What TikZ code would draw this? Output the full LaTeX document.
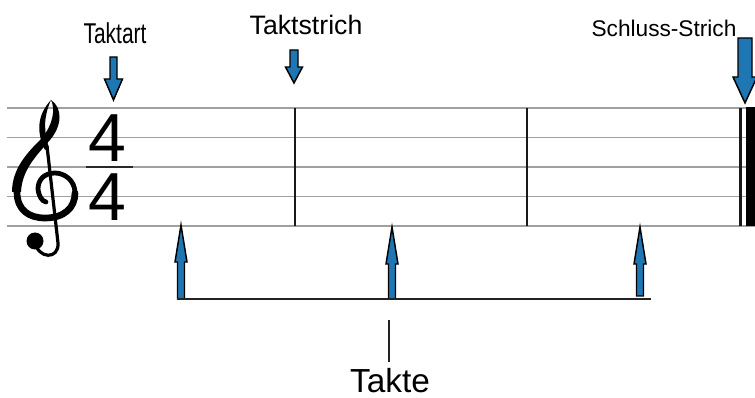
\documentclass[tikz,border=0pt]{standalone}
\usepackage{fontspec}
\setmainfont{Liberation Sans}
\usepackage{tikz}

\begin{document}
\begin{tikzpicture}[x=0.75pt,y=0.75pt,yscale=-1,xscale=1,
  staffline/.style={draw={rgb, 255:red, 160; green, 160; blue, 160}, line width=1.2pt},
  barline/.style={draw={rgb, 255:red, 25; green, 25; blue, 25}, line width=1.6pt},
  pointer/.style={draw=black, line width=1.1pt, line join=miter, fill={rgb, 255:red, 30; green, 118; blue, 178}},
  label/.style={anchor=base, inner sep=0pt}]
  \useasboundingbox (0,0) rectangle (755,398);

  %Straight Lines: staff
  \foreach \y in {108,137.5,167,196.5,226} {
    \draw [staffline] (7,\y) -- (755,\y) ;
  }
  %Straight Lines: bar lines
  \draw [barline] (295,108) -- (295,226) ;
  \draw [barline] (527,108) -- (527,226) ;
  \draw [barline] (740.5,108) -- (740.5,226) ;
  \fill [black] (746,107.5) rectangle (755,226.5) ;

  %Shape: treble clef
  \draw [line width=2.4pt, line cap=round] (35,242) .. controls (38,259) and (59,260) .. (58,243) -- (47,146) ;
  \fill (51,100) .. controls (36,116) and (37,134) .. (45,150) -- (49,148) .. controls (44,132) and (43,118) .. (51,100) -- cycle ;
  \fill (51,100) .. controls (63,108) and (62,126) .. (50,140) .. controls (36,156) and (22,170) .. (21,192)
        -- (12,192) .. controls (12,168) and (28,152) .. (42,138) .. controls (52,126) and (56,110) .. (51,100) -- cycle ;
  \draw [line width=5pt, line cap=round] (17,192) .. controls (17,210) and (29,218) .. (45,218) .. controls (64,218) and (75,208) .. (75,193) ;
  \draw [line width=3.6pt, line cap=round] (75,193) .. controls (75,180) and (64,173) .. (55,173) .. controls (44,173) and (38,180) .. (38,189) .. controls (39,197) and (42,201) .. (46,202) ;
  \fill (35,241) circle (8.5) ;

  % Text Node
  \node [label, font=\fontsize{51}{51}\selectfont] (oben) at (107.5,162) {4};
  % Text Node
  \node [label, font=\fontsize{51}{51}\selectfont] (unten) at (107.5,221) {4};
  \draw [line width=1.8pt, color={rgb, 255:red, 40; green, 40; blue, 40}] (86,167) -- (133,167) ;

  %Shape: pointer arrows down
  \draw [pointer] (110,57) -- (117,57) -- (117,79) -- (122.5,79) -- (113.5,100) -- (104.5,79) -- (110,79) -- cycle ;
  \draw [pointer] (290,50) -- (298,50) -- (298,67) -- (302.5,67) -- (294,83) -- (285.5,67) -- (290,67) -- cycle ;
  \draw [pointer] (738,38) -- (752,38) -- (752,77) -- (757,77) -- (745,103) -- (733,77) -- (738,77) -- cycle ;

  %Shape: pointer arrows up
  \draw [pointer] (177.5,299) -- (184.5,299) -- (184.5,262) -- (187,262) -- (181,225) -- (175,262) -- (177.5,262) -- cycle ;
  \draw [pointer] (388.5,299) -- (395.5,299) -- (395.5,264) -- (398,264) -- (392,227) -- (386,264) -- (388.5,264) -- cycle ;
  \draw [pointer] (636.5,296) -- (643.5,296) -- (643.5,264) -- (646,264) -- (640,227) -- (634,264) -- (636.5,264) -- cycle ;

  %Straight Lines: bracket
  \draw [line width=1.6pt, color={rgb, 255:red, 35; green, 35; blue, 35}] (177,299) -- (651,299) ;
  \coordinate (klammer) at (389,320);
  \coordinate (strich) at (389,362);
  \draw [line width=1.1pt, color={rgb, 255:red, 35; green, 35; blue, 35}] (klammer) -- (strich) ;

  % Text Node
  \node [label, xscale=0.73, font=\fontsize{21.5}{24}\selectfont] (taktart) at (115,44) {Taktart};
  % Text Node
  \node [label, font=\fontsize{20}{24}\selectfont] (taktstrich) at (306,35) {Taktstrich};
  % Text Node
  \node [label, font=\fontsize{17}{20}\selectfont] (schluss) at (664,37) {Schluss-Strich};
  % Text Node
  \node [label, font=\fontsize{25}{30}\selectfont] (takte) at (390,392) {Takte};

\end{tikzpicture}
\end{document}
